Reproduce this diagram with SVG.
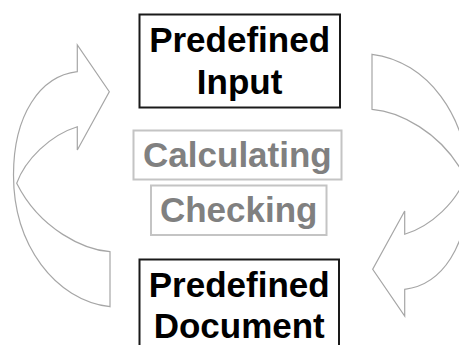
<svg xmlns="http://www.w3.org/2000/svg" width="459" height="345" viewBox="0 0 459 345">
<style>
.bg{fill:#ffffff}
.arrow{fill:#ffffff;stroke:#a6a6a6;stroke-width:1.2;stroke-linejoin:miter}
.box{fill:#ffffff;stroke:#1a1a1a;stroke-width:2}
.gbox{fill:#ffffff;stroke:#c4c4c4;stroke-width:2}
.t{font-family:"Liberation Sans",Arial,sans-serif;font-weight:bold;font-size:35px;text-anchor:middle;fill:#000000}
.gt{font-family:"Liberation Sans",Arial,sans-serif;font-weight:bold;font-size:35px;text-anchor:middle;fill:#808080}
</style>
<defs>
<path id="curvedArrow" d="M77.3,71.7 C40,76 13.5,115 13.5,175 C13.5,245 55,300 110,306.7 L110,251.7 C85,250 40,230 16.7,183.3 C25,160 50,135 77.3,126.7 L77.3,150 L109.3,91.7 L77.3,45 Z"/>
</defs>
<rect class="bg" x="0" y="0" width="459" height="345"/>
<g id="connectors">
<use id="arrow-left" href="#curvedArrow" class="arrow"/>
<use id="arrow-right" href="#curvedArrow" class="arrow" transform="rotate(180 241 180.5)"/>
</g>
<g id="node-input">
<rect class="box" x="139.5" y="14.5" width="200.5" height="93"/>
<text class="t" x="239.6" y="51.7">Predefined</text>
<text class="t" x="239.6" y="94">Input</text>
</g>
<g id="node-calculating">
<rect class="gbox" x="133.5" y="130.5" width="208" height="49"/>
<text class="gt" x="237.4" y="166.5">Calculating</text>
</g>
<g id="node-checking">
<rect class="gbox" x="151" y="185.5" width="175.5" height="49.5"/>
<text class="gt" x="238.7" y="221.5">Checking</text>
</g>
<g id="node-document">
<rect class="box" x="139.5" y="259.5" width="199.5" height="93"/>
<text class="t" x="239.2" y="296.7">Predefined</text>
<text class="t" x="239.2" y="338.3">Document</text>
</g>
</svg>
